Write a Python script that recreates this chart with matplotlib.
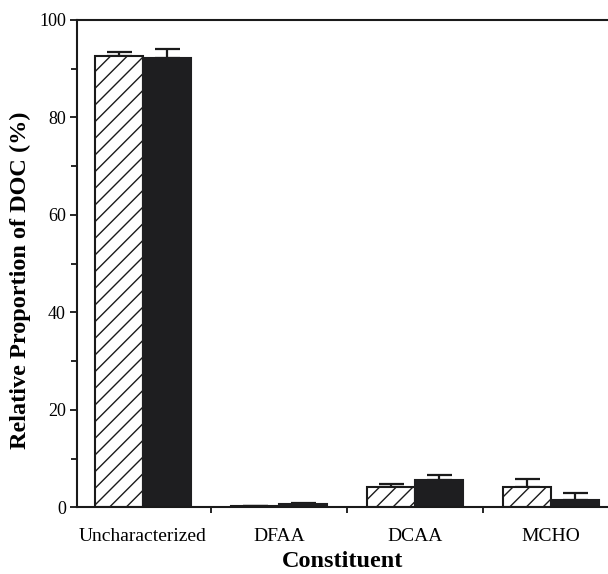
import numpy as np
import matplotlib
matplotlib.use("Agg")
import matplotlib.pyplot as plt
from matplotlib.ticker import MultipleLocator

categories = ["Uncharacterized", "DFAA", "DCAA", "MCHO"]
hatched_vals = [92.7, 0.3, 4.1, 4.1]
hatched_err = [0.8, 0.0, 0.8, 1.7]
solid_vals = [92.3, 0.7, 5.6, 1.5]
solid_err = [1.7, 0.2, 1.1, 1.5]

plt.rcParams["font.family"] = ["Liberation Serif", "DejaVu Serif"]
plt.rcParams["hatch.linewidth"] = 1.0

fig = plt.figure(figsize=(6.08, 5.74), dpi=100)
ax = fig.add_axes([0.1266, 0.1159, 0.8734, 0.8493])

x = np.arange(len(categories))
w = 0.353

ax.bar(x - w / 2, hatched_vals, w, facecolor="white", edgecolor="#1a1a1a",
       hatch="//", linewidth=1.5, zorder=2)
ax.bar(x + w / 2, solid_vals, w, facecolor="#1e1e20", edgecolor="#1e1e20",
       linewidth=1.5, zorder=2)

ax.errorbar(x - w / 2, hatched_vals, yerr=[np.zeros(4), hatched_err], fmt="none",
            ecolor="#1a1a1a", elinewidth=1.6, capsize=9, capthick=1.6, zorder=1)
ax.errorbar(x + w / 2, solid_vals, yerr=[np.zeros(4), solid_err], fmt="none",
            ecolor="#1a1a1a", elinewidth=1.6, capsize=9, capthick=1.6, zorder=1)

ax.set_xlim(-0.485, 3.42)
ax.set_ylim(0, 100)

ax.yaxis.set_major_locator(MultipleLocator(20))
ax.yaxis.set_minor_locator(MultipleLocator(10))
ax.set_xticks(x)
ax.set_xticklabels(categories, fontsize=14)
ax.set_xticks(x[:-1] + 0.5, minor=True)
ax.tick_params(axis="x", which="major", length=0, pad=15)
ax.tick_params(axis="x", which="minor", length=4, width=1.2, direction="out")
ax.tick_params(axis="y", which="major", length=5, width=1.2, labelsize=13, pad=3)
ax.tick_params(axis="y", which="minor", length=4, width=1.2)

for s in ["left", "bottom", "top"]:
    ax.spines[s].set_linewidth(1.5)
    ax.spines[s].set_color("#1a1a1a")
ax.spines["right"].set_visible(False)

ax.set_ylabel("Relative Proportion of DOC (%)", fontsize=17.5, fontweight="bold")
ax.yaxis.set_label_coords(-0.087, 0.467)
ax.set_xlabel("Constituent", fontsize=17.5, fontweight="bold", labelpad=4)

fig.savefig("out.png", dpi=100, facecolor="white")
